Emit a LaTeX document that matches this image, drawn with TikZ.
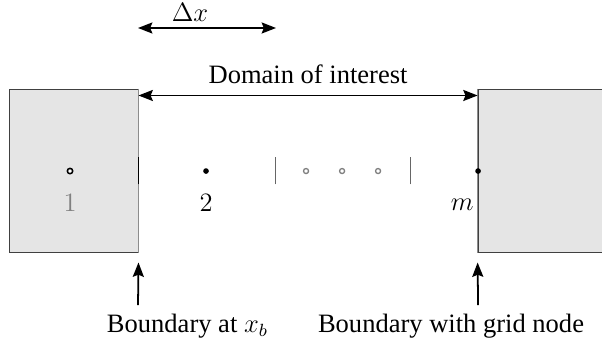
\documentclass[tikz,border=0pt,12pt]{standalone}
\usepackage{fontspec}
\setmainfont{Liberation Serif}
\usetikzlibrary{arrows.meta}
\begin{document}
\begin{tikzpicture}
\tikzstyle{wallbox}=[draw=black!75,fill=black!10,rectangle,minimum height=2.592cm,inner sep=0pt]
\tikzstyle{solidpt}=[circle,fill=black,inner sep=0pt,minimum size=0.09cm]
\tikzstyle{openpt}=[circle,draw=black,fill=white,line width=0.7pt,inner sep=0pt,minimum size=0.085cm]
\tikzstyle{ghostpt}=[circle,draw=black!50,fill=white,line width=0.6pt,inner sep=0pt,minimum size=0.08cm]
\tikzstyle{arrowline}=[-{Stealth[length=6.5pt,width=5pt,inset=1pt]},line width=0.8pt]
\tikzstyle{dimarrow}=[{Stealth[length=6.5pt,width=5pt,inset=1pt]}-{Stealth[length=6.5pt,width=5pt,inset=1pt]},line width=0.8pt]
\useasboundingbox (0,0) rectangle (9.57,5.39);
% the two walls outside the domain
\node[wallbox,minimum width=2.051cm] (lwall) at (1.169,2.679) {};
\node[wallbox,minimum width=1.97cm] (rwall) at (8.585,2.679) {};
\draw[black!45] (lwall.north east) -- (lwall.south east);
\draw[black!45] (rwall.north west) -- (rwall.south west);
\draw[black] (2.194,2.46) -- (2.194,2.89);
% grid spacing
\coordinate (dxl) at (2.194,4.945);
\coordinate (dxr) at (4.388,4.945);
\draw[dimarrow] (dxl) -- (dxr);
\node (dxlabel) at (3.02,5.2) {$\Delta x$};
\draw[dimarrow] ([yshift=-0.11cm]lwall.north east) -- ([yshift=-0.11cm]rwall.north west)
  node[midway,above=1pt] (domlabel) {Domain of interest};
% grid nodes
\node[openpt] (p1) at (1.113,2.671) {};
\node[solidpt] (p2) at (3.275,2.671) {};
\node[ghostpt] (q1) at (4.865,2.671) {};
\node[ghostpt] (q2) at (5.438,2.671) {};
\node[ghostpt] (q3) at (6.010,2.671) {};
\node[solidpt] (pm) at (7.60,2.671) {};
\draw[black!60] (4.373,2.46) -- (4.373,2.89);
\draw[black!60] (6.519,2.46) -- (6.519,2.89);
\node[text=black!50] (lab1) at (1.113,2.16) {$1$};
\node (lab2) at (3.275,2.16) {$2$};
\node (labm) at (7.35,2.13) {$m$};
% boundaries
\coordinate (bl) at (2.194,0.541);
\coordinate (br) at (7.60,0.541);
\draw[arrowline] (bl) -- ([yshift=-0.159cm]lwall.south east);
\draw[arrowline] (br) -- ([yshift=-0.159cm]rwall.south west);
\node (bdlabel) at (2.98,0.207) {Boundary at $x_b$};
\node (bglabel) at (7.17,0.207) {Boundary with grid node};
\end{tikzpicture}
\end{document}
